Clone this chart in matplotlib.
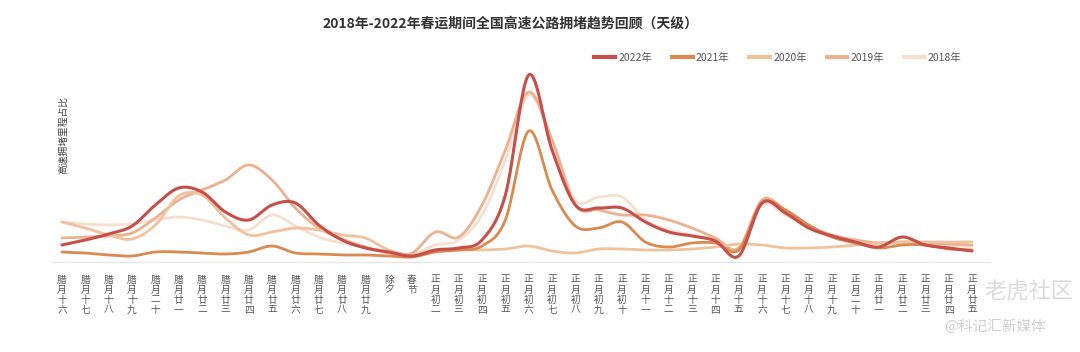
import numpy as np
import matplotlib
matplotlib.use("Agg")
import matplotlib.pyplot as plt
from matplotlib.lines import Line2D

plt.rcParams['font.family'] = ['Noto Sans CJK SC', 'DejaVu Sans']

categories = ["腊月十六", "腊月十七", "腊月十八", "腊月十九", "腊月二十", "腊月廿一", "腊月廿二",
              "腊月廿三", "腊月廿四", "腊月廿五", "腊月廿六", "腊月廿七", "腊月廿八", "腊月廿九",
              "除夕", "春节", "正月初二", "正月初三", "正月初四", "正月初五", "正月初六",
              "正月初七", "正月初八", "正月初九", "正月初十", "正月十一", "正月十二", "正月十三",
              "正月十四", "正月十五", "正月十六", "正月十七", "正月十八", "正月十九", "正月二十",
              "正月廿一", "正月廿二", "正月廿三", "正月廿四", "正月廿五"]

y2022 = [17, 22, 28, 36, 57, 74, 70, 50, 42, 57, 59, 37, 22, 14, 10, 6, 12, 14, 22, 67,
         187, 112, 57, 54, 54, 40, 30, 26, 21, 6, 59, 49, 34, 26, 20, 15, 25, 17, 14, 11]
y2021 = [10, 9, 7, 6, 10, 10, 9, 8, 10, 16, 9, 8, 7, 7, 6, 5, 10, 12, 16, 42,
         131, 72, 36, 34, 40, 20, 15, 19, 19, 12, 59, 52, 37, 25, 19, 14, 17, 17, 13, 12]
y2020 = [40, 34, 27, 23, 37, 66, 67, 44, 27, 30, 34, 32, 27, 24, 12, 7, 12, 12, 12, 13,
         16, 11, 9, 13, 13, 12, 12, 13, 15, 18, 17, 14, 14, 15, 17, 19, 20, 20, 20, 20]
y2019 = [24, 25, 26, 29, 44, 62, 72, 82, 97, 82, 54, 34, 23, 15, 9, 9, 30, 25, 57, 112,
         170, 122, 57, 52, 47, 47, 42, 34, 24, 14, 62, 52, 36, 27, 22, 19, 20, 19, 18, 17]
y2018 = [40, 38, 37, 38, 42, 45, 42, 36, 32, 47, 36, 25, 19, 15, 10, 8, 17, 22, 47, 102,
         167, 122, 62, 65, 65, 42, 32, 27, 22, 12, 57, 47, 34, 25, 22, 19, 18, 17, 16, 16]

series_names = ["2022年", "2021年", "2020年", "2019年", "2018年"]
series_values = [y2022, y2021, y2020, y2019, y2018]
colors = ["#c64f4a", "#d88a50", "#efc29e", "#e9b290", "#f7dfd0"]


def smooth(x, y, n=24):
    x = np.asarray(x, float)
    y = np.asarray(y, float)
    m = np.zeros_like(y)
    m[1:-1] = (y[2:] - y[:-2]) / (x[2:] - x[:-2])
    m[0] = y[1] - y[0]
    m[-1] = y[-1] - y[-2]
    xs, ys = [], []
    for i in range(len(x) - 1):
        t = np.linspace(0, 1, n, endpoint=False)
        h = x[i + 1] - x[i]
        h00 = 2 * t**3 - 3 * t**2 + 1
        h10 = t**3 - 2 * t**2 + t
        h01 = -2 * t**3 + 3 * t**2
        h11 = t**3 - t**2
        xs.append(x[i] + t * h)
        ys.append(h00 * y[i] + h10 * h * m[i] + h01 * y[i + 1] + h11 * h * m[i + 1])
    xs.append([x[-1]])
    ys.append([y[-1]])
    return np.concatenate(xs), np.concatenate(ys)


fig = plt.figure(figsize=(10.8, 3.52), dpi=100)
ax = fig.add_axes([52 / 1080, 90 / 352, 938 / 1080, 202 / 352])

x = np.arange(len(categories))
order = [4, 3, 2, 1, 0]
for k in order:
    sx, sy = smooth(x, series_values[k])
    lw = 2.2 if k == 0 else 2.0
    ax.plot(sx, sy, color=colors[k], lw=lw, solid_capstyle='round', zorder=3 + (4 - k))

ax.set_xlim(-0.43, 39.77)
ax.set_ylim(0, 202)
for s in ["top", "right", "left"]:
    ax.spines[s].set_visible(False)
ax.spines["bottom"].set_color("#e6e6e6")
ax.spines["bottom"].set_linewidth(1.0)
ax.set_yticks([])
ax.set_xticks(x)
ax.set_xticklabels(["\n".join(list(c)) for c in categories], fontsize=7, color="#555555",
                   linespacing=1.0, va="top")
ax.tick_params(axis="x", length=0, pad=9)

fig.text(63 / 1080, 1 - 135 / 352, "高速拥堵里程占比", rotation=90, fontsize=7, color="#444444",
         ha="center", va="center")

fig.text(510 / 1080, 1 - 24 / 352, "2018年-2022年春运期间全国高速公路拥堵趋势回顾（天级）",
         fontsize=10, fontweight="bold", color="#333333", ha="center", va="center")

handles = [Line2D([0], [0], color=c, lw=3) for c in colors]
fig.legend(handles, series_names, loc="center left", bbox_to_anchor=(585 / 1080, 1 - 58 / 352),
           ncol=5, frameon=False, fontsize=7.5, handlelength=2.0, handletextpad=0.3,
           columnspacing=1.9, labelcolor="#555555")

fig.text(984 / 1080, 1 - 292 / 352, "老虎社区", fontsize=16, color="#d8d8d8", ha="left",
         va="center", alpha=0.9)
fig.text(995 / 1080, 1 - 327 / 352, "@科记汇新媒体", fontsize=10.5, color="#d0d0d0",
         ha="center", va="center")

fig.savefig("out.png", dpi=100, facecolor="white")
